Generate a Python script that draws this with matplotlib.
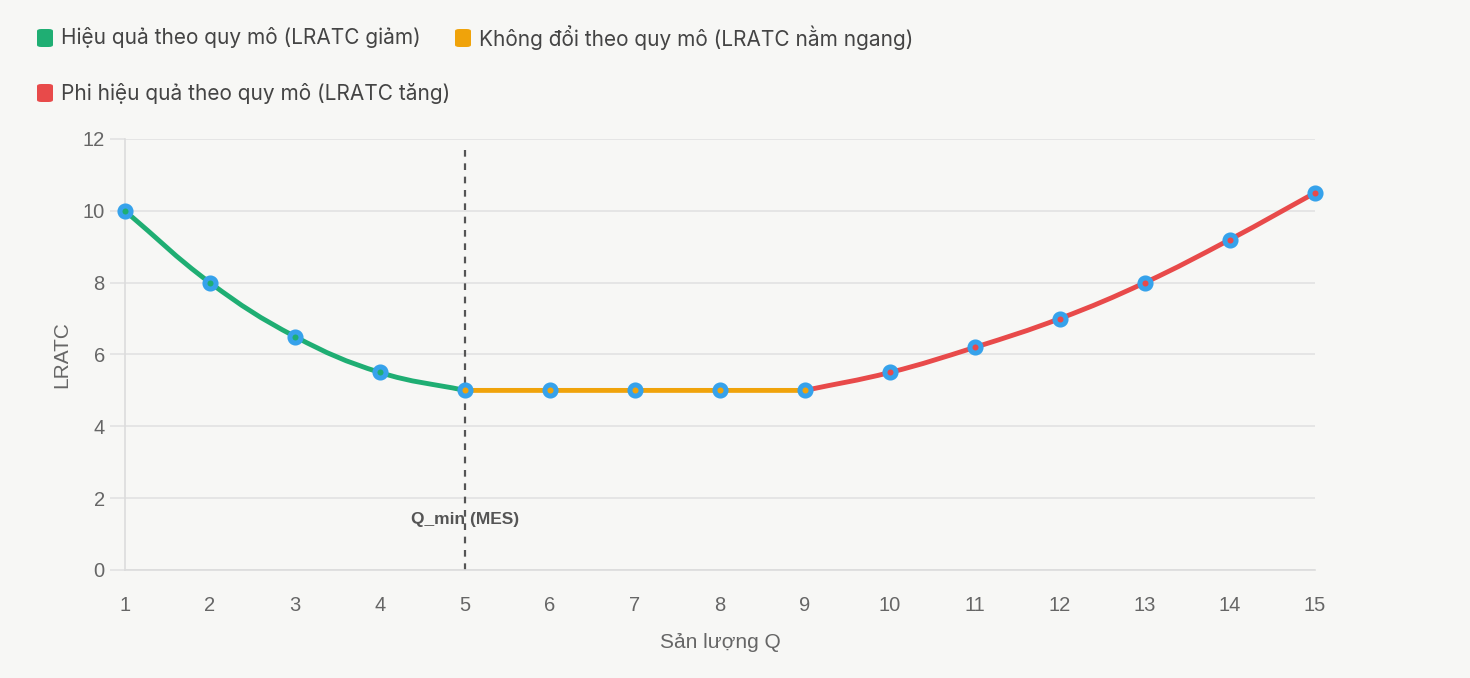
import numpy as np
import matplotlib.pyplot as plt
from matplotlib.path import Path
from matplotlib.patches import PathPatch, FancyBboxPatch

plt.rcParams['font.family'] = ['Liberation Sans', 'DejaVu Sans']

# dữ liệu
q = [1, 2, 3, 4, 5, 6, 7, 8, 9, 10, 11, 12, 13, 14, 15]
lratc = [10, 8, 6.5, 5.5, 5, 5, 5, 5, 5, 5.5, 6.2, 7, 8, 9.2, 10.5]
segments = [(0, 4), (4, 8), (8, 14)]
seg_colors = ['#1fae73', '#f0a30a', '#e84a4a']
seg_labels = ['Hiệu quả theo quy mô (LRATC giảm)',
              'Không đổi theo quy mô (LRATC nằm ngang)',
              'Phi hiệu quả theo quy mô (LRATC tăng)']
yticks = [0, 2, 4, 6, 8, 10, 12]

bg = '#f7f7f5'
fig = plt.figure(figsize=(14.7, 6.78), dpi=100, facecolor=bg)
ax = fig.add_axes([0.085, 0.1593, 0.8095, 0.6357], facecolor=bg)
ax.set_xlim(1, 15)
ax.set_ylim(0, 12)

# scale for pixel-space tension (chart.js style)
sx = 1190 / 14.0
sy = 431 / 12.0


def spline_path(xs, ys, t=0.4):
    px = np.array(xs, float) * sx
    py = np.array(ys, float) * sy
    n = len(px)
    cps = []
    for i in range(n):
        p0 = i - 1 if i > 0 else i
        p2 = i + 1 if i < n - 1 else i
        d01 = np.hypot(px[i] - px[p0], py[i] - py[p0])
        d12 = np.hypot(px[p2] - px[i], py[p2] - py[i])
        s01 = d01 / (d01 + d12) if d01 + d12 else 0
        s12 = d12 / (d01 + d12) if d01 + d12 else 0
        fa, fb = t * s01, t * s12
        dx, dy = px[p2] - px[p0], py[p2] - py[p0]
        cps.append(((px[i] - fa * dx, py[i] - fa * dy), (px[i] + fb * dx, py[i] + fb * dy)))
    verts = [(px[0] / sx, py[0] / sy)]
    codes = [Path.MOVETO]
    for i in range(n - 1):
        a = cps[i][1]
        b = cps[i + 1][0]
        verts += [(a[0] / sx, a[1] / sy), (b[0] / sx, b[1] / sy), (px[i + 1] / sx, py[i + 1] / sy)]
        codes += [Path.CURVE4] * 3
    return Path(verts, codes)


for (a, b), c in zip(segments, seg_colors):
    ax.add_patch(PathPatch(spline_path(q[a:b + 1], lratc[a:b + 1]), fill=False,
                           edgecolor=c, lw=3.5, zorder=3, capstyle='round'))

pt_colors = [seg_colors[0]] * 4 + [seg_colors[1]] * 5 + [seg_colors[2]] * 6
for x, y, c in zip(q, lratc, pt_colors):
    ax.plot(x, y, 'o', ms=8, mfc=c, mec='#36a2eb', mew=3.6, zorder=4, clip_on=False)

# MES line
ax.axvline(5, ymin=0, ymax=0.985, color='#555555', ls=(0, (3, 3)), lw=1.6, zorder=2)
ax.text(5, 1.4, 'Q_min (MES)', ha='center', va='center', fontsize=12.5,
        fontweight='bold', color='#555555', zorder=5)

ax.set_xticks(q)
ax.set_yticks(yticks)
ax.grid(axis='y', color='#e2e2e2', lw=1.2)
ax.set_axisbelow(True)
for s in ['top', 'right']:
    ax.spines[s].set_visible(False)
ax.spines['left'].set_color('#dcdcdc')
ax.spines['bottom'].set_color('#dcdcdc')
ax.spines['left'].set_linewidth(1.2)
ax.spines['bottom'].set_linewidth(1.2)
ax.tick_params(axis='y', colors='#e2e2e2', labelcolor='#666666', labelsize=14.5,
               length=10.5, width=1.2, pad=4)
ax.tick_params(axis='x', labelcolor='#666666', labelsize=14.5, length=0, pad=19)
ax.set_xlabel('Sản lượng Q', fontsize=15, color='#666666', labelpad=13)
ax.set_ylabel('LRATC', fontsize=15, color='#666666', labelpad=8)

# legend
leg_pos = [(37, 38), (455, 38), (37, 93)]
for (lx, ly), c, lab in zip(leg_pos, seg_colors, seg_labels):
    fx, fy = lx / 1470, 1 - ly / 678
    fig.patches.append(FancyBboxPatch((fx, fy - 9 / 678), 16 / 1470, 18 / 678,
                                      boxstyle='round,pad=0,rounding_size=0.003',
                                      transform=fig.transFigure, facecolor=c,
                                      edgecolor='none'))
    fig.text(fx + 24 / 1470, fy, lab, fontsize=15, color='#444444', va='center', ha='left',
             family=['Inter', 'DejaVu Sans'])

fig.savefig('out.png', dpi=100, facecolor=bg)
